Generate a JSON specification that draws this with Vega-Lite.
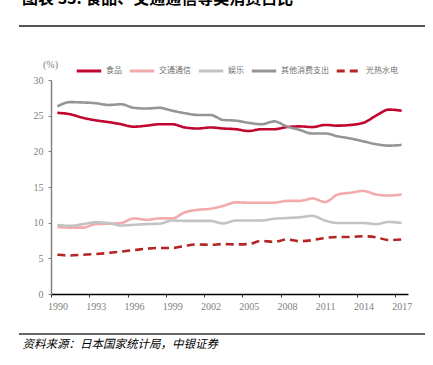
{
  "$schema": "https://vega.github.io/schema/vega-lite/v6.json",
  "width": 357,
  "height": 214,
  "autosize": {"type": "none"},
  "padding": {"left": 51, "top": 80, "right": 25, "bottom": 71},
  "background": "#ffffff",
  "config": {"view": {"stroke": null}},
  "title": {
    "text": "图表 33. 食品、交通通信等类消费占比",
    "anchor": "start",
    "frame": "group",
    "dx": -29,
    "offset": 10,
    "font": "Noto Sans CJK SC",
    "fontSize": 16,
    "fontWeight": "bold",
    "color": "#000000",
    "baseline": "middle"
  },
  "datasets": {
    "series": [
      {"year": 1990, "series": "食品", "value": 25.4},
      {"year": 1991, "series": "食品", "value": 25.2},
      {"year": 1992, "series": "食品", "value": 24.7},
      {"year": 1993, "series": "食品", "value": 24.35},
      {"year": 1994, "series": "食品", "value": 24.1},
      {"year": 1995, "series": "食品", "value": 23.8},
      {"year": 1996, "series": "食品", "value": 23.45},
      {"year": 1997, "series": "食品", "value": 23.6},
      {"year": 1998, "series": "食品", "value": 23.8},
      {"year": 1999, "series": "食品", "value": 23.8},
      {"year": 2000, "series": "食品", "value": 23.35},
      {"year": 2001, "series": "食品", "value": 23.2},
      {"year": 2002, "series": "食品", "value": 23.35},
      {"year": 2003, "series": "食品", "value": 23.2},
      {"year": 2004, "series": "食品", "value": 23.1},
      {"year": 2005, "series": "食品", "value": 22.85},
      {"year": 2006, "series": "食品", "value": 23.1},
      {"year": 2007, "series": "食品", "value": 23.1},
      {"year": 2008, "series": "食品", "value": 23.4},
      {"year": 2009, "series": "食品", "value": 23.5},
      {"year": 2010, "series": "食品", "value": 23.4},
      {"year": 2011, "series": "食品", "value": 23.7},
      {"year": 2012, "series": "食品", "value": 23.6},
      {"year": 2013, "series": "食品", "value": 23.7},
      {"year": 2014, "series": "食品", "value": 24.0},
      {"year": 2015, "series": "食品", "value": 25.0},
      {"year": 2016, "series": "食品", "value": 25.85},
      {"year": 2017, "series": "食品", "value": 25.7},

      {"year": 1990, "series": "交通通信", "value": 9.4},
      {"year": 1991, "series": "交通通信", "value": 9.3},
      {"year": 1992, "series": "交通通信", "value": 9.3},
      {"year": 1993, "series": "交通通信", "value": 9.8},
      {"year": 1994, "series": "交通通信", "value": 9.85},
      {"year": 1995, "series": "交通通信", "value": 9.95},
      {"year": 1996, "series": "交通通信", "value": 10.6},
      {"year": 1997, "series": "交通通信", "value": 10.4},
      {"year": 1998, "series": "交通通信", "value": 10.6},
      {"year": 1999, "series": "交通通信", "value": 10.6},
      {"year": 2000, "series": "交通通信", "value": 11.45},
      {"year": 2001, "series": "交通通信", "value": 11.8},
      {"year": 2002, "series": "交通通信", "value": 11.95},
      {"year": 2003, "series": "交通通信", "value": 12.35},
      {"year": 2004, "series": "交通通信", "value": 12.85},
      {"year": 2005, "series": "交通通信", "value": 12.8},
      {"year": 2006, "series": "交通通信", "value": 12.8},
      {"year": 2007, "series": "交通通信", "value": 12.8},
      {"year": 2008, "series": "交通通信", "value": 13.05},
      {"year": 2009, "series": "交通通信", "value": 13.05},
      {"year": 2010, "series": "交通通信", "value": 13.4},
      {"year": 2011, "series": "交通通信", "value": 12.9},
      {"year": 2012, "series": "交通通信", "value": 13.95},
      {"year": 2013, "series": "交通通信", "value": 14.2},
      {"year": 2014, "series": "交通通信", "value": 14.45},
      {"year": 2015, "series": "交通通信", "value": 13.95},
      {"year": 2016, "series": "交通通信", "value": 13.8},
      {"year": 2017, "series": "交通通信", "value": 13.95},

      {"year": 1990, "series": "娱乐", "value": 9.7},
      {"year": 1991, "series": "娱乐", "value": 9.55},
      {"year": 1992, "series": "娱乐", "value": 9.8},
      {"year": 1993, "series": "娱乐", "value": 10.05},
      {"year": 1994, "series": "娱乐", "value": 9.95},
      {"year": 1995, "series": "娱乐", "value": 9.6},
      {"year": 1996, "series": "娱乐", "value": 9.7},
      {"year": 1997, "series": "娱乐", "value": 9.8},
      {"year": 1998, "series": "娱乐", "value": 9.85},
      {"year": 1999, "series": "娱乐", "value": 10.3},
      {"year": 2000, "series": "娱乐", "value": 10.25},
      {"year": 2001, "series": "娱乐", "value": 10.25},
      {"year": 2002, "series": "娱乐", "value": 10.25},
      {"year": 2003, "series": "娱乐", "value": 9.9},
      {"year": 2004, "series": "娱乐", "value": 10.3},
      {"year": 2005, "series": "娱乐", "value": 10.3},
      {"year": 2006, "series": "娱乐", "value": 10.3},
      {"year": 2007, "series": "娱乐", "value": 10.55},
      {"year": 2008, "series": "娱乐", "value": 10.65},
      {"year": 2009, "series": "娱乐", "value": 10.75},
      {"year": 2010, "series": "娱乐", "value": 10.95},
      {"year": 2011, "series": "娱乐", "value": 10.3},
      {"year": 2012, "series": "娱乐", "value": 9.95},
      {"year": 2013, "series": "娱乐", "value": 9.95},
      {"year": 2014, "series": "娱乐", "value": 9.95},
      {"year": 2015, "series": "娱乐", "value": 9.8},
      {"year": 2016, "series": "娱乐", "value": 10.1},
      {"year": 2017, "series": "娱乐", "value": 9.95},

      {"year": 1990, "series": "其他消费支出", "value": 26.3},
      {"year": 1991, "series": "其他消费支出", "value": 26.9},
      {"year": 1992, "series": "其他消费支出", "value": 26.85},
      {"year": 1993, "series": "其他消费支出", "value": 26.75},
      {"year": 1994, "series": "其他消费支出", "value": 26.5},
      {"year": 1995, "series": "其他消费支出", "value": 26.6},
      {"year": 1996, "series": "其他消费支出", "value": 26.1},
      {"year": 1997, "series": "其他消费支出", "value": 26.0},
      {"year": 1998, "series": "其他消费支出", "value": 26.1},
      {"year": 1999, "series": "其他消费支出", "value": 25.7},
      {"year": 2000, "series": "其他消费支出", "value": 25.35},
      {"year": 2001, "series": "其他消费支出", "value": 25.1},
      {"year": 2002, "series": "其他消费支出", "value": 25.1},
      {"year": 2003, "series": "其他消费支出", "value": 24.4},
      {"year": 2004, "series": "其他消费支出", "value": 24.3},
      {"year": 2005, "series": "其他消费支出", "value": 24.0},
      {"year": 2006, "series": "其他消费支出", "value": 23.8},
      {"year": 2007, "series": "其他消费支出", "value": 24.2},
      {"year": 2008, "series": "其他消费支出", "value": 23.5},
      {"year": 2009, "series": "其他消费支出", "value": 23.0},
      {"year": 2010, "series": "其他消费支出", "value": 22.5},
      {"year": 2011, "series": "其他消费支出", "value": 22.5},
      {"year": 2012, "series": "其他消费支出", "value": 22.1},
      {"year": 2013, "series": "其他消费支出", "value": 21.8},
      {"year": 2014, "series": "其他消费支出", "value": 21.4},
      {"year": 2015, "series": "其他消费支出", "value": 21.0},
      {"year": 2016, "series": "其他消费支出", "value": 20.8},
      {"year": 2017, "series": "其他消费支出", "value": 20.9},

      {"year": 1990, "series": "光热水电", "value": 5.5},
      {"year": 1991, "series": "光热水电", "value": 5.4},
      {"year": 1992, "series": "光热水电", "value": 5.5},
      {"year": 1993, "series": "光热水电", "value": 5.6},
      {"year": 1994, "series": "光热水电", "value": 5.75},
      {"year": 1995, "series": "光热水电", "value": 5.95},
      {"year": 1996, "series": "光热水电", "value": 6.15},
      {"year": 1997, "series": "光热水电", "value": 6.35},
      {"year": 1998, "series": "光热水电", "value": 6.45},
      {"year": 1999, "series": "光热水电", "value": 6.45},
      {"year": 2000, "series": "光热水电", "value": 6.75},
      {"year": 2001, "series": "光热水电", "value": 6.95},
      {"year": 2002, "series": "光热水电", "value": 6.9},
      {"year": 2003, "series": "光热水电", "value": 7.0},
      {"year": 2004, "series": "光热水电", "value": 6.95},
      {"year": 2005, "series": "光热水电", "value": 7.0},
      {"year": 2006, "series": "光热水电", "value": 7.45},
      {"year": 2007, "series": "光热水电", "value": 7.3},
      {"year": 2008, "series": "光热水电", "value": 7.65},
      {"year": 2009, "series": "光热水电", "value": 7.4},
      {"year": 2010, "series": "光热水电", "value": 7.55},
      {"year": 2011, "series": "光热水电", "value": 7.85},
      {"year": 2012, "series": "光热水电", "value": 8.0},
      {"year": 2013, "series": "光热水电", "value": 8.0},
      {"year": 2014, "series": "光热水电", "value": 8.1},
      {"year": 2015, "series": "光热水电", "value": 7.95},
      {"year": 2016, "series": "光热水电", "value": 7.55},
      {"year": 2017, "series": "光热水电", "value": 7.65}
    ]
  },
  "data": {"name": "series"},
  "layer": [
    {
      "mark": {"type": "rule", "stroke": "#555555", "strokeWidth": 1.5, "clip": false},
      "encoding": {
        "x": {"datum": 1987.05, "type": "quantitative"},
        "x2": {"datum": 2018.8},
        "y": {"datum": 37.55, "type": "quantitative"}
      }
    },
    {
      "mark": {"type": "rule", "stroke": "#666666", "strokeWidth": 1.5, "clip": false},
      "encoding": {
        "x": {"datum": 1987.05, "type": "quantitative"},
        "x2": {"datum": 2018.8},
        "y": {"datum": -5.6, "type": "quantitative"}
      }
    },
    {
      "mark": {"type": "line", "strokeWidth": 2.6, "interpolate": "monotone"},
      "encoding": {
        "x": {
          "field": "year",
          "type": "quantitative",
          "scale": {"domain": [1989.5, 2017.5], "nice": false, "zero": false},
          "axis": {
            "values": [1990, 1993, 1996, 1999, 2002, 2005, 2008, 2011, 2014, 2017],
            "tickCount": 40,
            "format": "d",
            "grid": false,
            "domainColor": "#000000",
            "domainWidth": 1.5,
            "tickColor": "#333333",
            "tickSize": 3,
            "tickWidth": 1,
            "tickOffset": -6.375,
            "labelOffset": 6.375,
            "labelFont": "Liberation Serif",
            "labelFontSize": 10,
            "labelColor": "#808080",
            "labelPadding": 4,
            "labelFlush": false,
            "labelOverlap": false,
            "title": "资料来源：日本国家统计局，中银证券",
            "titleX": -29,
            "titleY": 50,
            "titleAnchor": "start",
            "titleAlign": "left",
            "titleBaseline": "middle",
            "titleFont": "Noto Sans CJK SC",
            "titleFontSize": 11.5,
            "titleFontWeight": "normal",
            "titleFontStyle": "italic",
            "titleColor": "#000000"
          }
        },
        "y": {
          "field": "value",
          "type": "quantitative",
          "scale": {"domain": [0, 30], "nice": false},
          "axis": {
            "values": [0, 5, 10, 15, 20, 25, 30],
            "tickCount": 40,
            "grid": false,
            "domainColor": "#808080",
            "domainWidth": 1.5,
            "tickColor": "#808080",
            "tickSize": 3,
            "labelFont": "Liberation Serif",
            "labelFontSize": 10,
            "labelColor": "#808080",
            "labelPadding": 5,
            "title": "(%)",
            "titleAngle": 0,
            "titleX": -1,
            "titleY": -16,
            "titleAlign": "center",
            "titleBaseline": "middle",
            "titleFont": "Liberation Serif",
            "titleFontSize": 10,
            "titleFontWeight": "normal",
            "titleColor": "#808080"
          }
        },
        "color": {
          "field": "series",
          "type": "nominal",
          "scale": {
            "domain": ["食品", "交通通信", "娱乐", "其他消费支出", "光热水电"],
            "range": ["#C0052E", "#F2ABAD", "#C3C3C3", "#959595", "#B52424"]
          },
          "legend": {
            "title": null,
            "orient": "none",
            "legendX": 24,
            "legendY": -23,
            "direction": "horizontal",
            "symbolType": "stroke",
            "symbolSize": 600,
            "symbolStrokeWidth": 3,
            "labelOffset": 3,
            "columnPadding": 1,
            "labelFont": "Noto Sans CJK SC",
            "labelFontSize": 8,
            "labelColor": "#707070"
          }
        },
        "strokeDash": {
          "field": "series",
          "type": "nominal",
          "scale": {
            "domain": ["食品", "交通通信", "娱乐", "其他消费支出", "光热水电"],
            "range": [[1, 0], [1, 0], [1, 0], [1, 0], [8, 5]]
          },
          "legend": {
            "title": null,
            "orient": "none",
            "legendX": 24,
            "legendY": -23,
            "direction": "horizontal",
            "symbolType": "stroke",
            "symbolSize": 600,
            "symbolStrokeWidth": 3,
            "labelOffset": 3,
            "columnPadding": 1,
            "labelFont": "Noto Sans CJK SC",
            "labelFontSize": 8,
            "labelColor": "#707070"
          }
        }
      }
    }
  ]
}
